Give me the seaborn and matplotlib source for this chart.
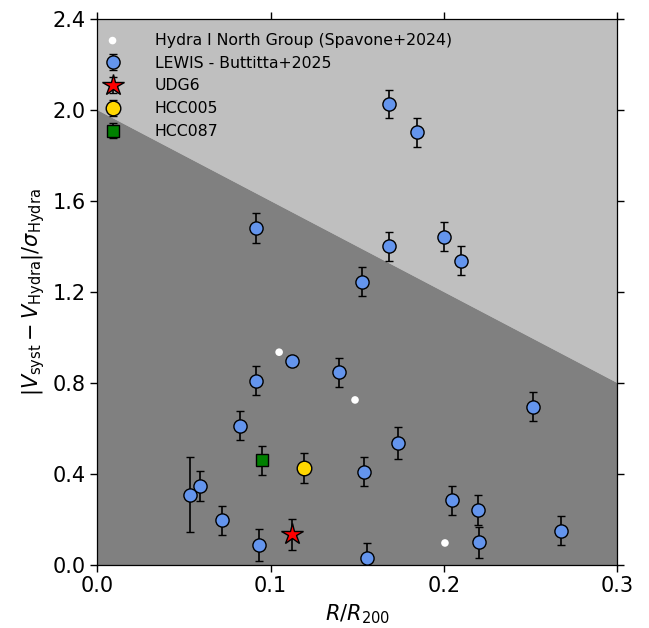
import numpy as np
import pandas as pd
import matplotlib
matplotlib.use("Agg")
import matplotlib.pyplot as plt
import seaborn as sns

# LEWIS sample (Buttitta+2025): projected radius, velocity offset and its error
lewis_r = [0.1683, 0.1844, 0.0913, 0.1683, 0.2000, 0.2100, 0.1527, 0.1126,
           0.1397, 0.0915, 0.0822, 0.2515, 0.1733, 0.1541, 0.0592, 0.0534,
           0.0717, 0.0932, 0.2048, 0.2194, 0.2202, 0.1556, 0.2678]
lewis_v = [2.025, 1.901, 1.479, 1.400, 1.442, 1.336, 1.244, 0.895,
           0.845, 0.808, 0.610, 0.694, 0.533, 0.409, 0.346, 0.308,
           0.195, 0.086, 0.283, 0.240, 0.098, 0.031, 0.148]
lewis_err = [0.062, 0.064, 0.067, 0.064, 0.064, 0.064, 0.064, 0.020,
             0.063, 0.064, 0.064, 0.063, 0.070, 0.064, 0.067, 0.165,
             0.064, 0.069, 0.064, 0.064, 0.067, 0.065, 0.064]

# Hydra I North Group members (Spavone+2024)
north_r = [0.1049, 0.1487, 0.2006]
north_v = [0.934, 0.724, 0.095]

# Individual galaxies
udg6_r, udg6_v, udg6_err = [0.1126], [0.133], [0.068]
hcc005_r, hcc005_v, hcc005_err = [0.119], [0.424], [0.065]
hcc087_r, hcc087_v, hcc087_err = [0.0951], [0.458], [0.062]

# Phase-space boundary |dV|/sigma = 2 - 4 R/R200
bound_x = [0.0, 0.3]
bound_y = [2.0, 0.8]

sns.set_style("ticks")
plt.rcParams["font.family"] = ["DejaVu Sans"]
plt.rcParams.update({
    "text.color": "black",
    "axes.labelcolor": "black",
    "xtick.color": "black",
    "ytick.color": "black",
    "axes.edgecolor": "black",
})

fig = plt.figure(figsize=(6.49, 6.28), dpi=100)
ax = fig.add_axes([0.150, 0.101, 0.801, 0.869])

x_lim = (0.0, 0.3)
y_lim = (0.0, 2.4)
ax.set_xlim(*x_lim)
ax.set_ylim(*y_lim)

# shaded regions above and below the boundary
ax.fill_between(bound_x, bound_y, y_lim[1], color="#bfbfbf", lw=0, zorder=0)
ax.fill_between(bound_x, y_lim[0], bound_y, color="#808080", lw=0, zorder=0)

north = pd.DataFrame({"r": north_r, "v": north_v})
sns.scatterplot(data=north, x="r", y="v", ax=ax, color="white", s=30,
                edgecolor="none", zorder=3,
                label="Hydra I North Group (Spavone+2024)", legend=False)

eb_kw = dict(ecolor="black", elinewidth=1.2, capsize=3.2, capthick=1.2,
             markeredgecolor="black", markeredgewidth=1.0, linestyle="none")
ax.errorbar(lewis_r, lewis_v, yerr=lewis_err, fmt="o", ms=9.5,
            mfc="cornflowerblue", label="LEWIS - Buttitta+2025", zorder=4, **eb_kw)
ax.errorbar(udg6_r, udg6_v, yerr=udg6_err, fmt="*", ms=16,
            mfc="red", label="UDG6", zorder=5, **eb_kw)
ax.errorbar(hcc005_r, hcc005_v, yerr=hcc005_err, fmt="o", ms=10.5,
            mfc="gold", label="HCC005", zorder=5, **eb_kw)
ax.errorbar(hcc087_r, hcc087_v, yerr=hcc087_err, fmt="s", ms=8,
            mfc="green", label="HCC087", zorder=5, **eb_kw)

ax.set_xticks([0.0, 0.1, 0.2, 0.3])
ax.set_yticks([0.0, 0.4, 0.8, 1.2, 1.6, 2.0, 2.4])
ax.xaxis.set_major_formatter(matplotlib.ticker.FormatStrFormatter("%.1f"))
ax.yaxis.set_major_formatter(matplotlib.ticker.FormatStrFormatter("%.1f"))
ax.tick_params(direction="out", length=5, width=1, labelsize=15,
               top=True, right=True)
for s in ax.spines.values():
    s.set_linewidth(0.9)

ax.set_xlabel(r"$R/R_{200}$", fontsize=15)
ax.set_ylabel(r"$|V_{\rm syst} - V_{\rm Hydra}|/\sigma_{\rm Hydra}$", fontsize=15)

ax.legend(loc="upper left", bbox_to_anchor=(-0.004, 0.989), frameon=False,
          fontsize=11.3, handlelength=1.2, handletextpad=2.1,
          borderaxespad=0.1, labelspacing=0.5)

fig.savefig("out.png", dpi=100)
